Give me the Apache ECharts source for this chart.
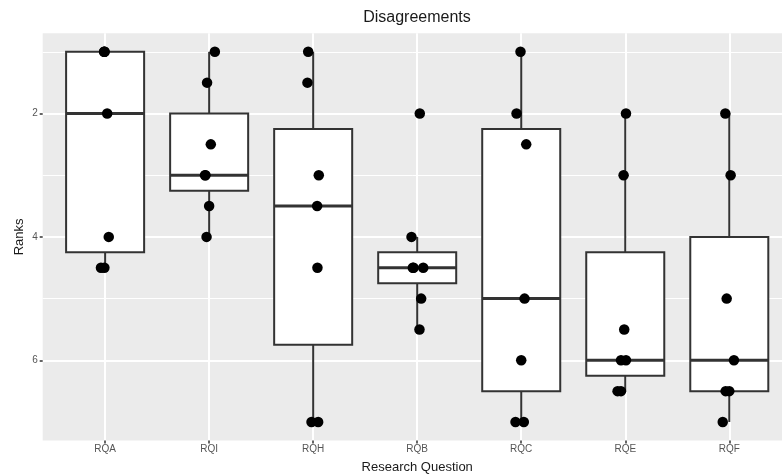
<!DOCTYPE html>
<html>
<head>
<meta charset="utf-8">
<script src="https://cdn.jsdelivr.net/npm/echarts@6/dist/echarts.min.js"></script>
<style>
  html, body { margin: 0; padding: 0; background: #ffffff; }
  #chart { width: 782px; height: 475px; }
</style>
</head>
<body>
<div id="chart"></div>
<script>
// Research questions along the x axis
const categories = ['RQA', 'RQI', 'RQH', 'RQB', 'RQC', 'RQE', 'RQF'];

// Ranks given to each research question (one value per respondent)
const ranksRQA = [1, 1, 1, 2, 4, 4.5, 4.5];
const ranksRQI = [1, 1.5, 2.5, 3, 3, 3.5, 4];
const ranksRQH = [1, 1.5, 3, 3.5, 4.5, 7, 7];
const ranksRQB = [2, 4, 4.5, 4.5, 4.5, 5, 5.5];
const ranksRQC = [1, 2, 2.5, 5, 6, 7, 7];
const ranksRQE = [2, 3, 5.5, 6, 6, 6.5, 6.5];
const ranksRQF = [2, 3, 5, 6, 6.5, 6.5, 7];

// Horizontal jitter of each point, in category units
const jitterRQA = [-0.010, -0.005, -0.007, 0.020, 0.035, -0.040, -0.007];
const jitterRQI = [0.055, -0.020, 0.016, -0.040, -0.035, 0.000, -0.025];
const jitterRQH = [-0.048, -0.055, 0.054, 0.038, 0.041, -0.016, 0.048];
const jitterRQB = [0.025, -0.055, -0.042, 0.058, -0.035, 0.038, 0.022];
const jitterRQC = [-0.007, -0.045, 0.048, 0.032, 0.000, -0.055, 0.025];
const jitterRQE = [0.007, -0.016, -0.010, -0.041, 0.007, -0.074, -0.041];
const jitterRQF = [-0.038, 0.013, -0.025, 0.045, -0.035, 0.000, -0.063];

// Axis ticks
const yMajorTicks = [2, 4, 6];
const yMinorTicks = [1, 3, 5];

const ranks = [ranksRQA, ranksRQI, ranksRQH, ranksRQB, ranksRQC, ranksRQE, ranksRQF];
const jitters = [jitterRQA, jitterRQI, jitterRQH, jitterRQB, jitterRQC, jitterRQE, jitterRQF];
const catPositions = categories.map((_, i) => i + 1);

// Type-7 quantile (linear interpolation between order statistics)
function quantile(sorted, p) {
  const h = (sorted.length - 1) * p;
  const lo = Math.floor(h);
  const hi = Math.min(lo + 1, sorted.length - 1);
  return sorted[lo] + (h - lo) * (sorted[hi] - sorted[lo]);
}

// Box statistics with Tukey whiskers (1.5 * IQR)
const boxData = ranks.map((vals, i) => {
  const s = vals.slice().sort((a, b) => a - b);
  const q1 = quantile(s, 0.25), med = quantile(s, 0.5), q3 = quantile(s, 0.75);
  const iqr = q3 - q1;
  const lowW = Math.min(...s.filter(v => v >= q1 - 1.5 * iqr));
  const highW = Math.max(...s.filter(v => v <= q3 + 1.5 * iqr));
  return [i + 1, lowW, q1, med, q3, highW];
});

const pointData = [];
ranks.forEach((vals, i) => {
  vals.forEach((v, j) => pointData.push([i + 1 + jitters[i][j], v]));
});

const BOX_WIDTH = 0.75;
const LINE_COLOR = '#333333';

function renderBox(params, api) {
  const x = api.value(0);
  const lo = api.value(1), q1 = api.value(2), med = api.value(3), q3 = api.value(4), hi = api.value(5);
  const halfW = api.size([BOX_WIDTH, 0])[0] / 2;
  const pLo = api.coord([x, lo]);
  const pQ1 = api.coord([x, q1]);
  const pMed = api.coord([x, med]);
  const pQ3 = api.coord([x, q3]);
  const pHi = api.coord([x, hi]);
  const cx = pQ1[0];
  const top = Math.min(pQ1[1], pQ3[1]);
  const h = Math.abs(pQ3[1] - pQ1[1]);
  return {
    type: 'group',
    children: [
      { type: 'line', shape: { x1: cx, y1: pLo[1], x2: cx, y2: pQ1[1] },
        style: { stroke: LINE_COLOR, lineWidth: 2 } },
      { type: 'line', shape: { x1: cx, y1: pQ3[1], x2: cx, y2: pHi[1] },
        style: { stroke: LINE_COLOR, lineWidth: 2 } },
      { type: 'rect', shape: { x: cx - halfW, y: top, width: halfW * 2, height: h },
        style: { fill: '#ffffff', stroke: LINE_COLOR, lineWidth: 2 } },
      { type: 'line', shape: { x1: cx - halfW, y1: pMed[1], x2: cx + halfW, y2: pMed[1] },
        style: { stroke: LINE_COLOR, lineWidth: 3 } }
    ]
  };
}

const chart = echarts.init(document.getElementById('chart'), null, { renderer: 'canvas' });

const FONT = 'Liberation Sans, Arial, sans-serif';

chart.setOption({
  animation: false,
  backgroundColor: '#ffffff',
  title: {
    text: 'Disagreements',
    left: 417,
    top: 10,
    padding: 0,
    textAlign: 'center',
    textStyle: { fontFamily: FONT, fontSize: 16, fontWeight: 'normal', color: '#1a1a1a' }
  },
  grid: {
    left: 42.7,
    top: 33.3,
    width: 749,
    bottom: 34.5,
    outerBoundsMode: 'none',
    show: true,
    backgroundColor: '#ebebeb',
    borderWidth: 0
  },
  xAxis: {
    type: 'value',
    min: 0.4,
    max: 7.6,
    name: 'Research Question',
    nameLocation: 'middle',
    nameGap: 20,
    nameMoveOverlap: false,
    nameTextStyle: { fontFamily: FONT, fontSize: 13, color: '#1a1a1a' },
    axisLine: { show: false },
    axisTick: { show: true, length: 3, customValues: catPositions,
      lineStyle: { color: '#333333', width: 1.5 } },
    axisLabel: {
      customValues: catPositions,
      margin: 4,
      fontFamily: FONT, fontSize: 10, color: '#555555',
      formatter: v => categories[Math.round(v) - 1]
    },
    splitLine: { show: true, lineStyle: { color: '#ffffff', width: 2 } }
  },
  yAxis: [{
    type: 'value',
    inverse: true,
    min: 0.7,
    max: 7.3,
    name: 'Ranks',
    nameLocation: 'middle',
    nameRotate: 90,
    nameGap: 17,
    nameMoveOverlap: false,
    nameTextStyle: { fontFamily: FONT, fontSize: 13, color: '#1a1a1a' },
    axisLine: { show: false },
    axisTick: { show: true, length: 3, customValues: yMajorTicks,
      lineStyle: { color: '#333333', width: 1.5 } },
    axisLabel: {
      customValues: yMajorTicks,
      margin: 5,
      fontFamily: FONT, fontSize: 10, color: '#555555'
    },
    splitLine: { show: true, lineStyle: { color: '#ffffff', width: 2 } }
  }, {
    // minor horizontal grid lines
    type: 'value',
    inverse: true,
    min: 0.7,
    max: 7.3,
    position: 'left',
    axisLine: { show: false },
    axisTick: { show: false, customValues: yMinorTicks },
    axisLabel: { show: false, customValues: yMinorTicks },
    splitLine: { show: true, lineStyle: { color: '#ffffff', width: 1 } }
  }],
  series: [{
    type: 'custom',
    name: 'box',
    renderItem: renderBox,
    encode: { x: 0, y: [1, 2, 3, 4, 5] },
    data: boxData,
    z: 2
  }, {
    type: 'scatter',
    name: 'ranks',
    data: pointData,
    symbol: 'circle',
    symbolSize: 10.5,
    itemStyle: { color: '#000000', opacity: 1 },
    z: 3
  }]
});
</script>
</body>
</html>
